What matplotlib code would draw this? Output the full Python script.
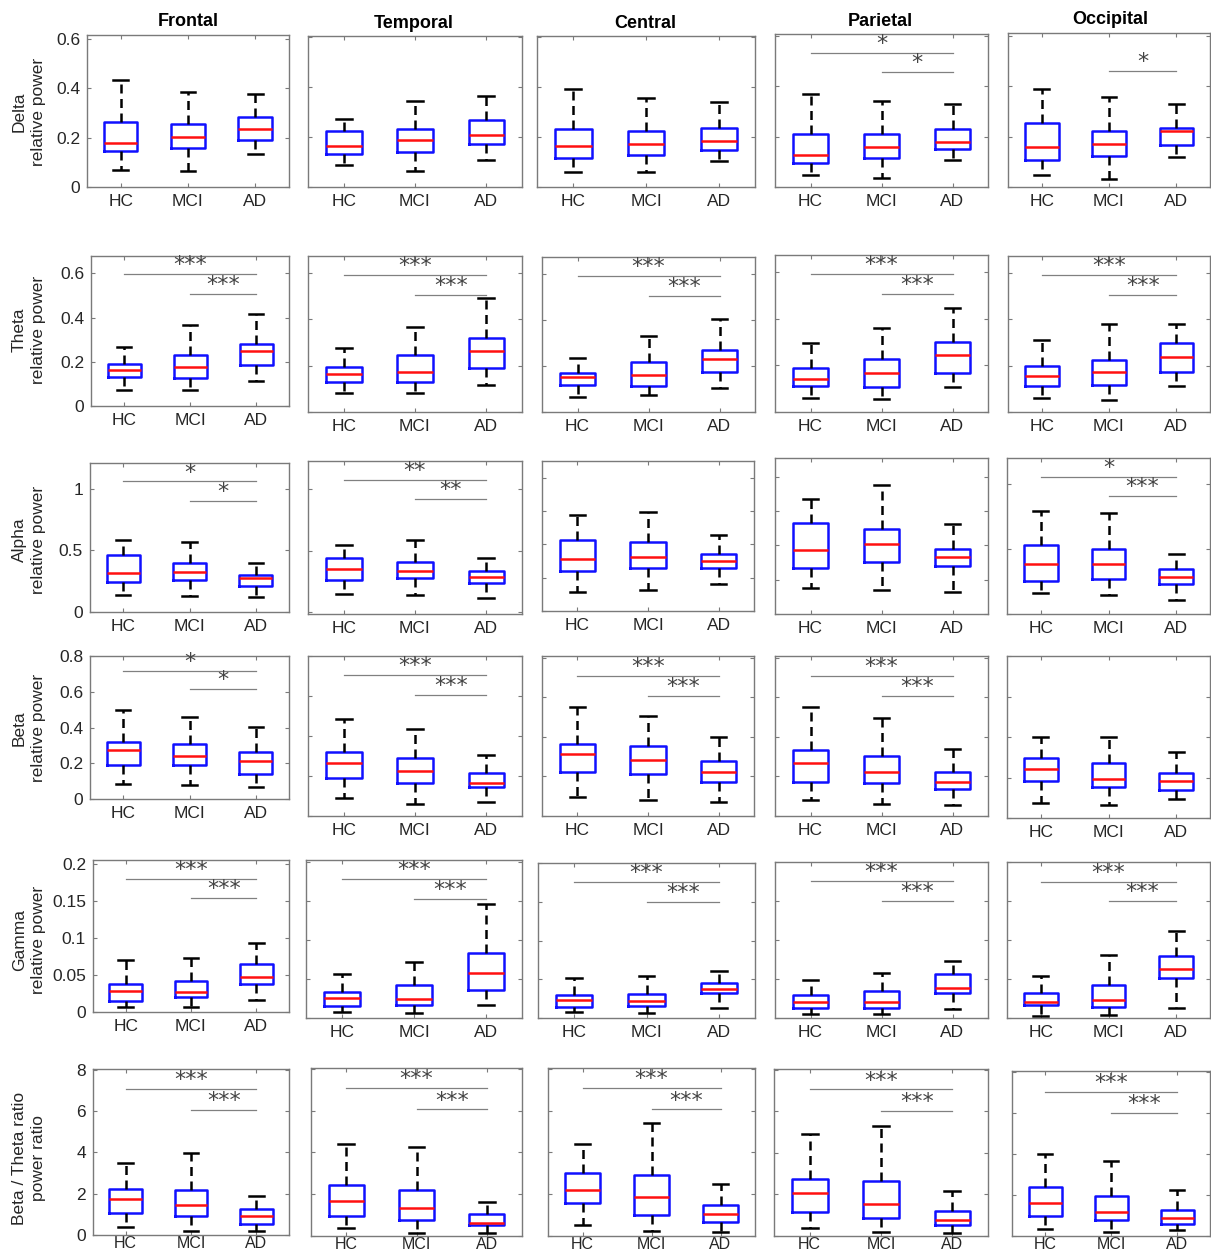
import matplotlib
matplotlib.use("Agg")
from matplotlib import pyplot as plt

plt.rcParams['font.family'] = ['Liberation Sans', 'DejaVu Sans']

REGIONS = ['Frontal', 'Temporal', 'Central', 'Parietal', 'Occipital']
GROUPS = ['HC', 'MCI', 'AD']
BANDS = ['Delta\nrelative power', 'Theta\nrelative power', 'Alpha\nrelative power',
         'Beta\nrelative power', 'Gamma\nrelative power', 'Beta / Theta ratio\npower ratio']

# box statistics, one row per region (Frontal..Occipital), columns HC, MCI, AD
DELTA_LO = [[0.067, 0.063, 0.133], [0.088, 0.065, 0.109], [0.060, 0.060, 0.106], [0.046, 0.037, 0.105], [0.046, 0.030, 0.119]]
DELTA_Q1 = [[0.147, 0.158, 0.192], [0.133, 0.140, 0.172], [0.117, 0.128, 0.149], [0.095, 0.115, 0.151], [0.107, 0.121, 0.168]]
DELTA_MED = [[0.178, 0.204, 0.234], [0.166, 0.189, 0.210], [0.165, 0.172, 0.185], [0.128, 0.158, 0.180], [0.160, 0.170, 0.221]]
DELTA_Q3 = [[0.261, 0.255, 0.285], [0.225, 0.233, 0.269], [0.233, 0.226, 0.236], [0.209, 0.209, 0.229], [0.253, 0.222, 0.234]]
DELTA_HI = [[0.434, 0.386, 0.377], [0.274, 0.345, 0.365], [0.392, 0.356, 0.340], [0.369, 0.342, 0.328], [0.388, 0.358, 0.328]]

THETA_LO = [[0.074, 0.074, 0.113], [0.082, 0.082, 0.117], [0.063, 0.075, 0.106], [0.062, 0.056, 0.106], [0.059, 0.052, 0.111]]
THETA_Q1 = [[0.131, 0.125, 0.187], [0.128, 0.131, 0.189], [0.117, 0.111, 0.174], [0.111, 0.107, 0.169], [0.110, 0.117, 0.174]]
THETA_MED = [[0.162, 0.177, 0.249], [0.164, 0.174, 0.262], [0.150, 0.161, 0.228], [0.143, 0.167, 0.247], [0.153, 0.174, 0.236]]
THETA_Q3 = [[0.190, 0.230, 0.278], [0.192, 0.244, 0.320], [0.169, 0.215, 0.268], [0.190, 0.227, 0.299], [0.199, 0.225, 0.299]]
THETA_HI = [[0.267, 0.367, 0.416], [0.275, 0.364, 0.492], [0.232, 0.330, 0.403], [0.296, 0.360, 0.446], [0.309, 0.381, 0.377]]

ALPHA_LO = [[0.141, 0.127, 0.122], [0.144, 0.141, 0.119], [0.114, 0.124, 0.164], [0.150, 0.140, 0.130], [0.162, 0.149, 0.111]]
ALPHA_Q1 = [[0.241, 0.260, 0.214], [0.263, 0.276, 0.236], [0.238, 0.256, 0.260], [0.266, 0.305, 0.278], [0.253, 0.268, 0.232]]
ALPHA_MED = [[0.314, 0.322, 0.274], [0.355, 0.333, 0.285], [0.314, 0.322, 0.298], [0.373, 0.408, 0.332], [0.381, 0.387, 0.286]]
ALPHA_Q3 = [[0.461, 0.396, 0.301], [0.440, 0.410, 0.333], [0.424, 0.412, 0.344], [0.532, 0.497, 0.381], [0.534, 0.500, 0.348]]
ALPHA_HI = [[0.588, 0.569, 0.398], [0.545, 0.588, 0.442], [0.576, 0.596, 0.454], [0.668, 0.750, 0.526], [0.796, 0.776, 0.464]]

BETA_LO = [[0.086, 0.077, 0.067], [0.092, 0.059, 0.069], [0.098, 0.081, 0.071], [0.079, 0.063, 0.056], [0.076, 0.064, 0.092]]
BETA_Q1 = [[0.192, 0.190, 0.142], [0.192, 0.166, 0.144], [0.225, 0.215, 0.174], [0.174, 0.169, 0.137], [0.181, 0.155, 0.139]]
BETA_MED = [[0.276, 0.238, 0.211], [0.263, 0.226, 0.167], [0.314, 0.284, 0.225], [0.269, 0.221, 0.172], [0.241, 0.194, 0.185]]
BETA_Q3 = [[0.321, 0.307, 0.263], [0.320, 0.291, 0.216], [0.367, 0.355, 0.280], [0.336, 0.306, 0.223], [0.297, 0.272, 0.224]]
BETA_HI = [[0.497, 0.459, 0.403], [0.485, 0.433, 0.306], [0.552, 0.505, 0.402], [0.552, 0.498, 0.341], [0.400, 0.398, 0.326]]

GAMMA_LO = [[0.0068, 0.0068, 0.0162], [0.0073, 0.0068, 0.0167], [0.0073, 0.0064, 0.0132], [0.0051, 0.0051, 0.0111], [0.0030, 0.0043, 0.0128]]
GAMMA_Q1 = [[0.0153, 0.0198, 0.0383], [0.0160, 0.0170, 0.0360], [0.0140, 0.0154, 0.0320], [0.0132, 0.0124, 0.0316], [0.0162, 0.0145, 0.0517]]
GAMMA_MED = [[0.0279, 0.0266, 0.0473], [0.0260, 0.0250, 0.0580], [0.0230, 0.0222, 0.0376], [0.0205, 0.0201, 0.0385], [0.0210, 0.0235, 0.0628]]
GAMMA_Q3 = [[0.0374, 0.0423, 0.0653], [0.0340, 0.0420, 0.0830], [0.0295, 0.0316, 0.0457], [0.0295, 0.0342, 0.0564], [0.0320, 0.0419, 0.0799]]
GAMMA_HI = [[0.0700, 0.0730, 0.0932], [0.0560, 0.0720, 0.1470], [0.0510, 0.0540, 0.0607], [0.0487, 0.0573, 0.0735], [0.0540, 0.0808, 0.1110]]

RATIO_LO = [[0.40, 0.21, 0.21], [0.38, 0.14, 0.14], [0.49, 0.20, 0.17], [0.39, 0.19, 0.14], [0.33, 0.19, 0.27]]
RATIO_Q1 = [[1.05, 0.90, 0.54], [0.96, 0.77, 0.50], [1.56, 1.01, 0.66], [1.15, 0.87, 0.52], [0.95, 0.77, 0.57]]
RATIO_MED = [[1.73, 1.47, 0.91], [1.65, 1.32, 0.61], [2.17, 1.86, 1.04], [2.05, 1.52, 0.76], [1.60, 1.17, 0.88]]
RATIO_Q3 = [[2.23, 2.20, 1.27], [2.42, 2.19, 1.02], [2.99, 2.91, 1.48], [2.72, 2.64, 1.20], [2.39, 1.94, 1.23]]
RATIO_HI = [[3.48, 3.97, 1.87], [4.42, 4.25, 1.62], [4.38, 5.43, 2.47], [4.91, 5.29, 2.16], [4.01, 3.66, 2.21]]

# significance bars per region: (first group, stars, height); second group is always AD
DELTA_SIG = [[], [], [], [('HC', '*', 0.532), ('MCI', '*', 0.456)], [('MCI', '*', 0.46)]]
THETA_SIG = [[('HC', '***', 0.595), ('MCI', '***', 0.508)], [('HC', '***', 0.59), ('MCI', '***', 0.505)],
             [('HC', '***', 0.589), ('MCI', '***', 0.503)], [('HC', '***', 0.594), ('MCI', '***', 0.508)],
             [('HC', '***', 0.589), ('MCI', '***', 0.503)]]
ALPHA_SIG = [[('HC', '*', 1.06), ('MCI', '*', 0.905)], [('HC', '**', 1.076), ('MCI', '**', 0.919)], [], [],
             [('HC', '*', 1.057), ('MCI', '***', 0.905)]]
BETA_SIG = [[('HC', '*', 0.718), ('MCI', '*', 0.614)], [('HC', '***', 0.706), ('MCI', '***', 0.604)],
            [('HC', '***', 0.709), ('MCI', '***', 0.608)], [('HC', '***', 0.709), ('MCI', '***', 0.608)], []]
GAMMA_SIG = [[('HC', '***', 0.18), ('MCI', '***', 0.154)], [('HC', '***', 0.179), ('MCI', '***', 0.153)],
             [('HC', '***', 0.175), ('MCI', '***', 0.15)], [('HC', '***', 0.176), ('MCI', '***', 0.15)],
             [('HC', '***', 0.175), ('MCI', '***', 0.15)]]
RATIO_SIG = [[('HC', '***', 7.07), ('MCI', '***', 6.05)], [('HC', '***', 7.09), ('MCI', '***', 6.06)],
             [('HC', '***', 7.09), ('MCI', '***', 6.06)], [('HC', '***', 7.06), ('MCI', '***', 6.03)],
             [('HC', '***', 7.01), ('MCI', '***', 5.99)]]

# axis limits and ticks per panel
YLIMS = [[(0, 0.615), (0, 0.606), (0, 0.606), (0, 0.606), (0, 0.61)],
         [(0, 0.678), (0, 0.672), (0, 0.672), (0, 0.675), (0, 0.672)],
         [(0, 1.21), (-0.015, 1.23), (0, 0.9), (0, 0.91), (0, 1.2)],
         [(0, 0.8), (0, 0.8), (0, 0.81), (0, 0.81), (0, 0.6)],
         [(0, 0.206), (0, 0.203), (0, 0.2), (0, 0.2), (0, 0.2)],
         [(0, 8.03), (-0.02, 8.05), (-0.02, 8.05), (-0.02, 8.05), (-0.02, 8.05)]]
YTICKS = [[[0, 0.2, 0.4, 0.6]] * 5,
          [[0, 0.2, 0.4, 0.6]] * 5,
          [[0, 0.5, 1], [0, 0.5, 1], [0, 0.2, 0.4, 0.6, 0.8], [0, 0.2, 0.4, 0.6, 0.8], [0, 0.5, 1]],
          [[0, 0.2, 0.4, 0.6, 0.8]] * 5,
          [[0, 0.05, 0.1, 0.15, 0.2]] * 5,
          [[0, 2, 4, 6, 8]] * 5]
YTICKLABELS = [['0', '0.2', '0.4', '0.6'], ['0', '0.2', '0.4', '0.6'], ['0', '0.5', '1'],
               ['0', '0.2', '0.4', '0.6', '0.8'], ['0', '0.05', '0.1', '0.15', '0.2'], ['0', '2', '4', '6', '8']]

# panel boxes in pixels: x0, x1, top, bottom
W, H = 1211, 1257
PANELS = [[(87, 289, 35, 187), (308, 522, 36, 187), (537, 755, 36, 187), (775, 988, 34, 187), (1008, 1210, 33, 187)],
          [(91, 289, 256, 406), (308, 522, 256, 412), (542, 755, 257, 412), (775, 988, 255, 412), (1008, 1210, 256, 412)],
          [(90, 289, 463, 612), (308, 522, 461, 614), (542, 754, 461, 611), (775, 988, 458, 614), (1007, 1210, 458, 614)],
          [(90, 289, 656, 799), (308, 522, 656, 816), (542, 754, 656, 816), (775, 988, 656, 816), (1007, 1210, 656, 818)],
          [(93, 289, 860, 1012), (306, 522, 860, 1018), (538, 755, 863, 1018), (775, 988, 862, 1018), (1007, 1210, 862, 1018)],
          [(93, 289, 1069, 1235), (311, 522, 1068, 1236), (548, 755, 1068, 1236), (774, 988, 1069, 1236), (1012, 1210, 1071, 1236)]]
TITLE_POS = [(188, 22), (414, 24), (645, 24), (880, 22), (1110, 20)]
YLABEL_Y = [112, 330, 540, 728, 940, 1158]

ROWS = [(DELTA_LO, DELTA_Q1, DELTA_MED, DELTA_Q3, DELTA_HI, DELTA_SIG),
        (THETA_LO, THETA_Q1, THETA_MED, THETA_Q3, THETA_HI, THETA_SIG),
        (ALPHA_LO, ALPHA_Q1, ALPHA_MED, ALPHA_Q3, ALPHA_HI, ALPHA_SIG),
        (BETA_LO, BETA_Q1, BETA_MED, BETA_Q3, BETA_HI, BETA_SIG),
        (GAMMA_LO, GAMMA_Q1, GAMMA_MED, GAMMA_Q3, GAMMA_HI, GAMMA_SIG),
        (RATIO_LO, RATIO_Q1, RATIO_MED, RATIO_Q3, RATIO_HI, RATIO_SIG)]

LW = 1.8
AXIS_GRAY = '#7a7a7a'

fig = plt.figure(figsize=(W / 100, H / 100), dpi=100)

for r, (lo, q1, med, q3, hi, sig) in enumerate(ROWS):
    last_row = r == len(ROWS) - 1
    for c in range(5):
        x0, x1, top, bot = PANELS[r][c]
        ax = fig.add_axes([x0 / W, 1 - bot / H, (x1 - x0) / W, (bot - top) / H])
        stats = [dict(whislo=lo[c][g], q1=q1[c][g], med=med[c][g], q3=q3[c][g],
                      whishi=hi[c][g], label=GROUPS[g]) for g in range(3)]
        ax.bxp(stats, positions=[1, 2, 3], widths=0.5, capwidths=0.22, showfliers=False,
               boxprops=dict(color='#1010ff', lw=LW),
               medianprops=dict(color='#ff1010', lw=LW),
               whiskerprops=dict(color='black', lw=LW, linestyle=(0, (3.6, 2.2))),
               capprops=dict(color='black', lw=LW))

        for first, stars, y in sig[c]:
            xa = GROUPS.index(first) + 1
            ax.plot([xa, 3], [y, y], color='#808080', lw=0.9)
            ax.annotate(stars, xy=((xa + 3) / 2, y), xytext=(0, -0.8), textcoords='offset points',
                        ha='center', va='bottom', fontsize=16, color='#444444', family='DejaVu Sans')

        ax.set_xlim(0.5, 3.5)
        ax.set_ylim(*YLIMS[r][c])
        ax.set_yticks(YTICKS[r][c])
        ax.set_xticks([1, 2, 3])
        ax.set_xticklabels(GROUPS)
        if c == 0:
            ax.set_yticklabels(YTICKLABELS[r])
        else:
            ax.tick_params(labelleft=False)
        ax.tick_params(direction='in', top=True, right=True, length=3, width=0.8,
                       color=AXIS_GRAY, labelsize=12.5, labelcolor='#262626', pad=5)
        if last_row:
            ax.tick_params(axis='x', labelsize=11.5, pad=1)
        for s in ax.spines.values():
            s.set_color(AXIS_GRAY)
            s.set_linewidth(1.0)

for c, (tx, ty) in enumerate(TITLE_POS):
    fig.text(tx / W, 1 - ty / H, REGIONS[c], ha='center', va='center',
             fontsize=13, fontweight='bold', color='black')

for r, ly in enumerate(YLABEL_Y):
    fig.text(29 / W, 1 - ly / H, BANDS[r], rotation=90, ha='center', va='center',
             multialignment='center', fontsize=12.5, color='#262626', linespacing=1.35)

fig.savefig('out.png', dpi=100)
